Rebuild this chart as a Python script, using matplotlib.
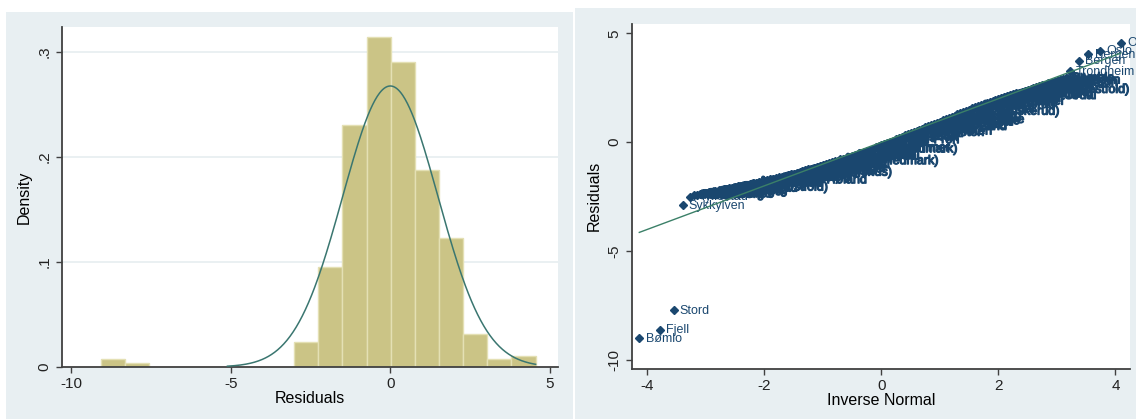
import numpy as np
import matplotlib.pyplot as plt
import matplotlib.patheffects as pe
from matplotlib.patches import Rectangle

plt.rcParams['font.family'] = ['Liberation Sans', 'DejaVu Sans']

navy = "#1a476f"
khaki = "#cbc486"
axcol = "#404040"

# histogram of residuals (density scale)
bin_edges = [-9.06, -8.30, -7.55, -6.79, -6.04, -5.28, -4.52, -3.77, -3.01, -2.26,
             -1.50, -0.74, 0.01, 0.77, 1.52, 2.28, 3.04, 3.79, 4.55]
density = [0.0076, 0.0035, 0, 0, 0, 0, 0, 0, 0.0235, 0.0949,
           0.2303, 0.3137, 0.2902, 0.1871, 0.1230, 0.0314, 0.0076, 0.0108]
norm_mean = 0.0
norm_sd = 1.492
curve_lo = -5.1
curve_hi = 4.55

# quantile plot: inverse normal vs residuals
band_x = [-3.20, -3.15, -3.10, -3.05, -3.00, -2.95, -2.90, -2.85, -2.80, -2.75,
          -2.70, -2.65, -2.60, -2.55, -2.50, -2.45, -2.40, -2.35, -2.30, -2.25,
          -2.20, -2.15, -2.10, -2.05, -2.00, -1.95, -1.90, -1.85, -1.80, -1.75,
          -1.70, -1.65, -1.60, -1.55, -1.50, -1.45, -1.40, -1.35, -1.30, -1.25,
          -1.20, -1.15, -1.10, -1.05, -1.00, -0.95, -0.90, -0.85, -0.80, -0.75,
          -0.70, -0.65, -0.60, -0.55, -0.50, -0.45, -0.40, -0.35, -0.30, -0.25,
          -0.20, -0.15, -0.10, -0.05, 0.00, 0.05, 0.10, 0.15, 0.20, 0.25,
          0.30, 0.35, 0.40, 0.45, 0.50, 0.55, 0.60, 0.65, 0.70, 0.75,
          0.80, 0.85, 0.90, 0.95, 1.00, 1.05, 1.10, 1.15, 1.20, 1.25,
          1.30, 1.35, 1.40, 1.45, 1.50, 1.55, 1.60, 1.65, 1.70, 1.75,
          1.80, 1.85, 1.90, 1.95, 2.00, 2.05, 2.10, 2.15, 2.20, 2.25,
          2.30, 2.35, 2.40, 2.45, 2.50, 2.55, 2.60, 2.65, 2.70, 2.75,
          2.80, 2.85, 2.90, 2.95, 3.00, 3.05, 3.10, 3.15]
band_y = [-2.42, -2.40, -2.37, -2.35, -2.32, -2.30, -2.27, -2.25, -2.22, -2.20,
          -2.17, -2.14, -2.11, -2.09, -2.06, -2.03, -2.00, -1.98, -1.95, -1.92,
          -1.89, -1.87, -1.84, -1.81, -1.78, -1.75, -1.71, -1.68, -1.64, -1.61,
          -1.58, -1.55, -1.51, -1.48, -1.44, -1.40, -1.36, -1.32, -1.28, -1.25,
          -1.21, -1.17, -1.13, -1.09, -1.05, -1.01, -0.96, -0.92, -0.88, -0.84,
          -0.79, -0.75, -0.71, -0.67, -0.62, -0.58, -0.53, -0.48, -0.43, -0.39,
          -0.34, -0.29, -0.24, -0.19, -0.14, -0.09, -0.03, 0.02, 0.08, 0.13,
          0.19, 0.25, 0.31, 0.36, 0.42, 0.47, 0.53, 0.58, 0.63, 0.69,
          0.74, 0.79, 0.84, 0.90, 0.95, 1.00, 1.06, 1.11, 1.17, 1.22,
          1.28, 1.33, 1.39, 1.44, 1.50, 1.55, 1.60, 1.65, 1.70, 1.75,
          1.80, 1.85, 1.90, 1.95, 2.00, 2.04, 2.08, 2.12, 2.16, 2.20,
          2.24, 2.28, 2.32, 2.36, 2.40, 2.44, 2.48, 2.52, 2.57, 2.61,
          2.65, 2.70, 2.74, 2.78, 2.82, 2.87, 2.92, 2.97]
band_names = ["Halden", "Moss", "Sarpsborg", "Fredrikstad", "Hvaler", "Aremark",
              "Marker", "Rømskog", "Trøgstad", "Spydeberg", "Askim", "Eidsberg",
              "Skiptvet", "Rakkestad", "Råde", "Rygge", "Våler (Østfold)", "Hobøl",
              "Vestby", "Ski", "Ås", "Frogn", "Nesodden", "Oppegård", "Bærum", "Asker",
              "Aurskog-Høland", "Sørum", "Fet", "Rælingen", "Enebakk", "Lørenskog",
              "Skedsmo", "Nittedal", "Gjerdrum", "Ullensaker", "Nes (Akershus)",
              "Eidsvoll", "Nannestad", "Hurdal", "Kongsvinger", "Hamar", "Ringsaker",
              "Løten", "Stange", "Nord-Odal", "Sør-Odal", "Eidskog", "Grue", "Åsnes",
              "Våler (Hedmark)", "Elverum", "Trysil", "Åmot", "Stor-Elvdal", "Rendalen",
              "Engerdal", "Tolga", "Tynset", "Alvdal", "Folldal", "Os (Hedmark)",
              "Lillehammer", "Gjøvik", "Dovre", "Lesja", "Skjåk", "Lom", "Vågå",
              "Nord-Fron", "Sel", "Sør-Fron", "Ringebu", "Øyer", "Gausdal",
              "Østre Toten", "Vestre Toten", "Jevnaker", "Lunner", "Gran",
              "Søndre Land", "Nordre Land", "Sør-Aurdal", "Etnedal", "Nord-Aurdal",
              "Vestre Slidre", "Øystre Slidre", "Vang", "Drammen", "Kongsberg",
              "Ringerike", "Hole", "Flå", "Nes (Buskerud)", "Gol", "Hemsedal", "Ål",
              "Hol", "Sigdal", "Krødsherad", "Modum", "Øvre Eiker", "Nedre Eiker",
              "Lier", "Røyken", "Hurum", "Flesberg", "Rollag", "Nore og Uvdal",
              "Horten", "Holmestrand", "Tønsberg", "Sandefjord", "Larvik", "Svelvik",
              "Sande (Vestfold)", "Hof", "Re", "Andebu", "Stokke", "Nøtterøy", "Tjøme",
              "Lardal", "Porsgrunn", "Skien", "Notodden", "Siljan", "Bamble"]
tail_x = [-4.14, -3.79, -3.555, -3.40, -3.28, 3.22, 3.37, 3.54, 3.74, 4.09]
tail_y = [-8.99, -8.61, -7.72, -2.88, -2.50, 3.28, 3.74, 4.05, 4.20, 4.57]
tail_names = ["Bømlo", "Fjell", "Stord", "Sykkylven", "Hyllestad",
              "Trondheim", "Bergen", "Bergen", "Oslo", "Oslo"]
ref_x = [-4.14, 4.09]
ref_y = [-4.14, 4.09]

fig = plt.figure(figsize=(11.36, 4.19), dpi=100)
fig.patches.append(Rectangle((6/1136, 0), 567/1136, 407/419, transform=fig.transFigure,
                             facecolor="#e8eff2", edgecolor="none", zorder=-5))
fig.patches.append(Rectangle((575/1136, 0), 561/1136, 411/419, transform=fig.transFigure,
                             facecolor="#e8eff2", edgecolor="none", zorder=-5))


def stata_axes(ax):
    for s in ["top", "right"]:
        ax.spines[s].set_visible(False)
    for s in ["left", "bottom"]:
        ax.spines[s].set_color(axcol)
        ax.spines[s].set_linewidth(1.3)
    ax.tick_params(direction="out", length=4.5, width=1, color=axcol,
                   labelsize=11, labelcolor="#222222", pad=3)
    for lab in ax.get_yticklabels():
        lab.set_rotation(90)
        lab.set_va("center")


# left: histogram with normal density
ax1 = fig.add_axes([62/1136, 1 - 367/419, 496/1136, 340/419], zorder=1)
ax1.set_facecolor("white")
widths = np.diff(bin_edges)
ax1.bar(bin_edges[:-1], density, width=widths, align="edge", color=khaki,
        edgecolor="#e4e0b4", linewidth=1, zorder=2)
xs = np.linspace(curve_lo, curve_hi, 400)
pdf = np.exp(-0.5 * ((xs - norm_mean) / norm_sd) ** 2) / (norm_sd * np.sqrt(2 * np.pi))
ax1.plot(xs, pdf, color="#3a7670", linewidth=1.1, zorder=3)
ax1.set_xlim(-10.28, 5.25)
ax1.set_ylim(0, 0.3235)
ax1.set_xticks([-10, -5, 0, 5])
ax1.set_xticklabels(["-10", "-5", "0", "5"])
ax1.set_yticks([0, 0.1, 0.2, 0.3])
ax1.set_yticklabels(["0", ".1", ".2", ".3"])
for g in [0.1, 0.2, 0.3]:
    ax1.axhline(g, color="#e6eef0", linewidth=1.2, zorder=1)
ax1.set_xlabel("Residuals", fontsize=11.5, labelpad=0)
ax1.set_ylabel("Density", fontsize=11.5, labelpad=4)
stata_axes(ax1)

# right: normal quantile plot with labels
ax2 = fig.add_axes([631.7/1136, 1 - 368.5/419, 498.3/1136, 344.5/419], zorder=1)
ax2.set_facecolor("white")
ax2.plot(band_x + tail_x, band_y + tail_y, linestyle="none", marker="D",
         markersize=4.4, color=navy, zorder=3)
# labels inside the crowded band pile up, so give them a thin stroke
thick = [pe.withStroke(linewidth=0.9, foreground=navy)]
for xv, yv, nm in zip(band_x, band_y, band_names):
    ax2.annotate(nm, (xv, yv), xytext=(4.5, -0.5), textcoords="offset points",
                 fontsize=9, color=navy, va="center", ha="left",
                 annotation_clip=False, zorder=3, path_effects=thick)
for xv, yv, nm in zip(tail_x, tail_y, tail_names):
    ax2.annotate(nm, (xv, yv), xytext=(4.5, -0.5), textcoords="offset points",
                 fontsize=9, color=navy, va="center", ha="left",
                 annotation_clip=False, zorder=3)
ax2.plot(ref_x, ref_y, color="#3b8068", linewidth=1, zorder=4)
ax2.set_xlim(-4.27, 4.25)
ax2.set_ylim(-10.39, 5.43)
ax2.set_xticks([-4, -2, 0, 2, 4])
ax2.set_xticklabels(["-4", "-2", "0", "2", "4"])
ax2.set_yticks([-10, -5, 0, 5])
ax2.set_yticklabels(["-10", "-5", "0", "5"])
ax2.set_xlabel("Inverse Normal", fontsize=11.5, labelpad=0)
ax2.set_ylabel("Residuals", fontsize=11.5, labelpad=4)
stata_axes(ax2)

fig.savefig("out.png", dpi=100, facecolor="white")
